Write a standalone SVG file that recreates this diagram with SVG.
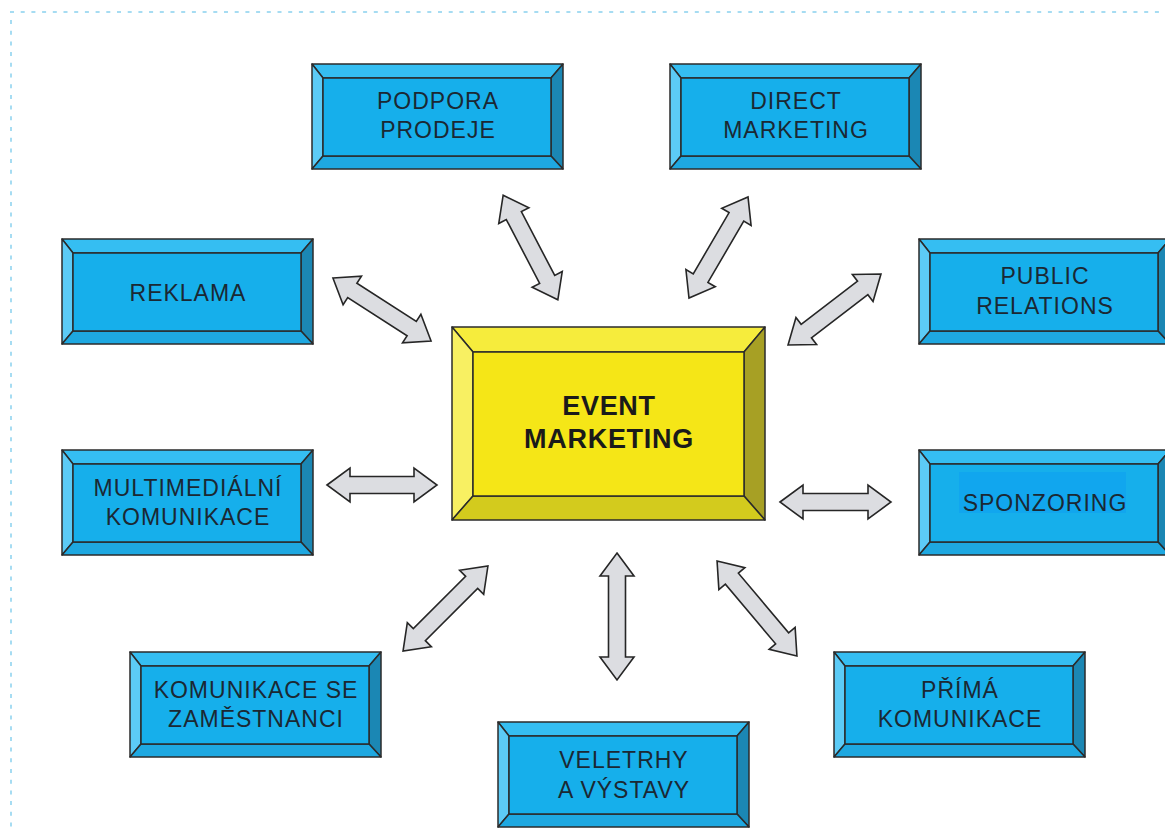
<svg xmlns="http://www.w3.org/2000/svg" xmlns:xlink="http://www.w3.org/1999/xlink" width="1165" height="831" viewBox="0 0 1165 831">
  <style>
    .frame { fill: none; stroke: #a6dcf2; stroke-width: 2; stroke-dasharray: 4 6.7; }
    .edge { stroke: #2b2b2b; stroke-width: 1.5; stroke-linejoin: round; }
    .b-top { fill: #35bef2; }
    .b-left { fill: #5ccbf6; }
    .b-right { fill: #1b87b4; }
    .b-bottom { fill: #1ea8e1; }
    .b-face { fill: #16afeb; }
    .y-top { fill: #f6ec3c; }
    .y-left { fill: #f8f062; }
    .y-right { fill: #a7a024; }
    .y-bottom { fill: #d3cb1d; }
    .y-face { fill: #f5e617; }
    .lbl { font-family: "Liberation Sans", Arial, sans-serif; font-size: 23px; letter-spacing: 1px; fill: #1b2833; text-anchor: middle; }
    .main { font-family: "Liberation Sans", Arial, sans-serif; font-size: 27px; font-weight: bold; letter-spacing: 0.7px; fill: #1a1a1a; text-anchor: middle; }
    .arrow { fill: #dcdde1; stroke: #262626; stroke-width: 1.6; stroke-linejoin: miter; }
  </style>
  <defs>
    <!-- bevelled blue tile, 251 x 105 -->
    <g id="bluebox">
      <polygon class="b-top edge" points="0,0 251,0 239,14 11,14"/>
      <polygon class="b-left edge" points="0,0 11,14 11,92 0,105"/>
      <polygon class="b-right edge" points="251,0 251,105 239,92 239,14"/>
      <polygon class="b-bottom edge" points="0,105 11,92 239,92 251,105"/>
      <rect class="b-face edge" x="11" y="14" width="228" height="78"/>
    </g>
  </defs>

  <rect width="1165" height="831" fill="#ffffff"/>
  <!-- dotted page frame -->
  <line class="frame" x1="10" y1="12" x2="1165" y2="12"/>
  <line class="frame" x1="11" y1="20" x2="11" y2="831"/>

  <!-- double-headed connectors -->
  <g id="connectors">
    <path class="arrow" transform="translate(382,309.5) rotate(32.7)" d="M-58.3,0 L-35.3,-17 L-35.3,-8.5 L35.3,-8.5 L35.3,-17 L58.3,0 L35.3,17 L35.3,8.5 L-35.3,8.5 L-35.3,17 Z"/>
    <path class="arrow" transform="translate(834.5,309.5) rotate(-37.4)" d="M-58.5,0 L-35.5,-17 L-35.5,-8.5 L35.5,-8.5 L35.5,-17 L58.5,0 L35.5,17 L35.5,8.5 L-35.5,8.5 L-35.5,17 Z"/>
    <path class="arrow" transform="translate(530.5,247.5) rotate(62.4)" d="M-59,0 L-36,-17 L-36,-8.5 L36,-8.5 L36,-17 L59,0 L36,17 L36,8.5 L-36,8.5 L-36,17 Z"/>
    <path class="arrow" transform="translate(718.5,247.5) rotate(-59.7)" d="M-58.5,0 L-35.5,-17 L-35.5,-8.5 L35.5,-8.5 L35.5,-17 L58.5,0 L35.5,17 L35.5,8.5 L-35.5,8.5 L-35.5,17 Z"/>
    <path class="arrow" transform="translate(382,485)" d="M-55,0 L-32,-17 L-32,-8.5 L32,-8.5 L32,-17 L55,0 L32,17 L32,8.5 L-32,8.5 L-32,17 Z"/>
    <path class="arrow" transform="translate(835.5,502)" d="M-55.5,0 L-32.5,-17 L-32.5,-8.5 L32.5,-8.5 L32.5,-17 L55.5,0 L32.5,17 L32.5,8.5 L-32.5,8.5 L-32.5,17 Z"/>
    <path class="arrow" transform="translate(445.5,608.5) rotate(-45)" d="M-60,0 L-37,-17 L-37,-8.5 L37,-8.5 L37,-17 L60,0 L37,17 L37,8.5 L-37,8.5 L-37,17 Z"/>
    <path class="arrow" transform="translate(617,616.5) rotate(90)" d="M-63.5,0 L-40.5,-17 L-40.5,-8.5 L40.5,-8.5 L40.5,-17 L63.5,0 L40.5,17 L40.5,8.5 L-40.5,8.5 L-40.5,17 Z"/>
    <path class="arrow" transform="translate(757,608.5) rotate(49.9)" d="M-62,0 L-39,-17 L-39,-8.5 L39,-8.5 L39,-17 L62,0 L39,17 L39,8.5 L-39,8.5 L-39,17 Z"/>
  </g>

  <!-- central node -->
  <g id="event-marketing">
    <polygon class="y-top edge" points="452,327 765,327 744,352 473,352"/>
    <polygon class="y-left edge" points="452,327 473,352 473,496 452,520"/>
    <polygon class="y-right edge" points="765,327 765,520 744,496 744,352"/>
    <polygon class="y-bottom edge" points="452,520 473,496 744,496 765,520"/>
    <rect class="y-face edge" x="473" y="352" width="271" height="144"/>
    <text class="main" x="609" y="415">EVENT</text>
    <text class="main" x="609" y="448">MARKETING</text>
  </g>

  <g id="podpora-prodeje">
    <use xlink:href="#bluebox" x="312" y="64"/>
    <text class="lbl" x="438" y="109">PODPORA</text>
    <text class="lbl" x="438" y="138">PRODEJE</text>
  </g>

  <g id="direct-marketing">
    <use xlink:href="#bluebox" x="670" y="64"/>
    <text class="lbl" x="796" y="109">DIRECT</text>
    <text class="lbl" x="796" y="138">MARKETING</text>
  </g>

  <g id="reklama">
    <use xlink:href="#bluebox" x="62" y="239"/>
    <text class="lbl" x="188" y="301">REKLAMA</text>
  </g>

  <g id="public-relations">
    <use xlink:href="#bluebox" x="919" y="239"/>
    <text class="lbl" x="1045" y="284">PUBLIC</text>
    <text class="lbl" x="1045" y="314">RELATIONS</text>
  </g>

  <g id="multimedialni-komunikace">
    <use xlink:href="#bluebox" x="62" y="450"/>
    <text class="lbl" x="188" y="496">MULTIMEDIÁLNÍ</text>
    <text class="lbl" x="188" y="525">KOMUNIKACE</text>
  </g>

  <g id="sponzoring">
    <use xlink:href="#bluebox" x="919" y="450"/>
    <rect x="959" y="472" width="167" height="41" fill="#11a6ee"/>
    <text class="lbl" x="1045" y="511">SPONZORING</text>
  </g>

  <g id="komunikace-se-zamestnanci">
    <use xlink:href="#bluebox" x="130" y="652"/>
    <text class="lbl" x="256" y="698">KOMUNIKACE SE</text>
    <text class="lbl" x="256" y="727">ZAMĚSTNANCI</text>
  </g>

  <g id="veletrhy-a-vystavy">
    <use xlink:href="#bluebox" x="498" y="722"/>
    <text class="lbl" x="624" y="768">VELETRHY</text>
    <text class="lbl" x="624" y="798">A VÝSTAVY</text>
  </g>

  <g id="prima-komunikace">
    <use xlink:href="#bluebox" x="834" y="652"/>
    <text class="lbl" x="960" y="698">PŘÍMÁ</text>
    <text class="lbl" x="960" y="727">KOMUNIKACE</text>
  </g>
</svg>
